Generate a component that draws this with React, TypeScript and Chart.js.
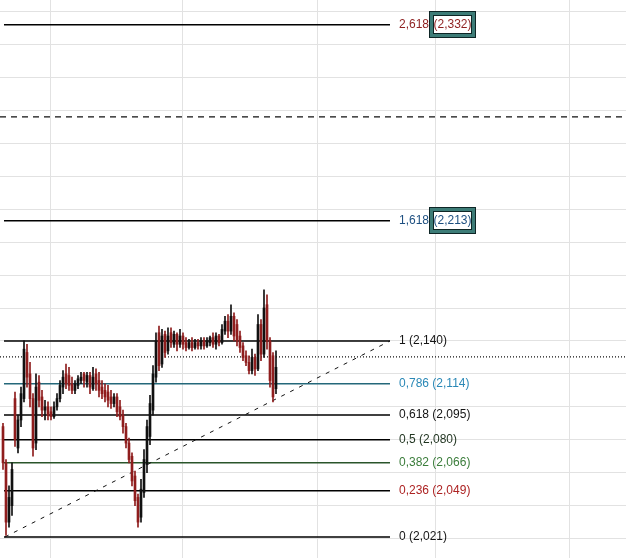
import React, { useEffect, useRef } from 'react';
import { Chart, registerables } from 'chart.js';
Chart.register(...registerables);

// ---- Candle data (index-based time axis) ----
const candleOpen = [
  2.088, 2.066, 2.030, 2.040, 2.105, 2.075, 2.092, 2.105, 2.133, 2.120,
  2.105, 2.078, 2.115, 2.106, 2.098, 2.100, 2.097, 2.094, 2.100, 2.105,
  2.112, 2.120, 2.119, 2.114, 2.110, 2.113, 2.116, 2.120, 2.115, 2.119,
  2.111, 2.120, 2.116, 2.112, 2.110, 2.109, 2.106, 2.102, 2.106, 2.100,
  2.095, 2.088, 2.078, 2.070, 2.058, 2.045, 2.033, 2.048, 2.065, 2.082,
  2.098, 2.118, 2.145, 2.126, 2.144, 2.134, 2.145, 2.138, 2.144, 2.138,
  2.143, 2.139, 2.136, 2.139, 2.136, 2.139, 2.137, 2.140, 2.137, 2.139,
  2.142, 2.138, 2.143, 2.139, 2.146, 2.152, 2.146, 2.155, 2.150, 2.143,
  2.137, 2.131, 2.127, 2.122, 2.130, 2.123, 2.150, 2.132, 2.162, 2.140,
  2.131, 2.111,
];
const candleHigh = [
  2.090, 2.068, 2.052, 2.066, 2.109, 2.095, 2.112, 2.140, 2.138, 2.127,
  2.108, 2.120, 2.119, 2.110, 2.104, 2.103, 2.100, 2.103, 2.108, 2.116,
  2.122, 2.126, 2.124, 2.118, 2.116, 2.119, 2.121, 2.121, 2.121, 2.121,
  2.124, 2.123, 2.121, 2.116, 2.114, 2.113, 2.110, 2.108, 2.108, 2.104,
  2.098, 2.090, 2.081, 2.072, 2.061, 2.047, 2.056, 2.074, 2.092, 2.107,
  2.125, 2.145, 2.149, 2.147, 2.146, 2.148, 2.148, 2.146, 2.145, 2.147,
  2.145, 2.142, 2.141, 2.142, 2.141, 2.141, 2.142, 2.142, 2.142, 2.143,
  2.145, 2.145, 2.144, 2.150, 2.155, 2.156, 2.162, 2.157, 2.153, 2.146,
  2.139, 2.134, 2.131, 2.135, 2.132, 2.156, 2.153, 2.171, 2.168, 2.142,
  2.133, 2.134,
];
const candleLow = [
  2.062, 2.022, 2.027, 2.034, 2.076, 2.072, 2.088, 2.103, 2.112, 2.100,
  2.070, 2.074, 2.100, 2.094, 2.092, 2.092, 2.092, 2.093, 2.098, 2.103,
  2.108, 2.111, 2.110, 2.108, 2.108, 2.111, 2.114, 2.112, 2.112, 2.108,
  2.110, 2.110, 2.106, 2.105, 2.103, 2.100, 2.099, 2.100, 2.094, 2.092,
  2.084, 2.075, 2.066, 2.052, 2.040, 2.027, 2.030, 2.045, 2.060, 2.077,
  2.095, 2.115, 2.122, 2.124, 2.130, 2.132, 2.136, 2.136, 2.134, 2.136,
  2.135, 2.134, 2.135, 2.134, 2.135, 2.135, 2.135, 2.135, 2.136, 2.137,
  2.136, 2.135, 2.137, 2.138, 2.144, 2.142, 2.144, 2.140, 2.137, 2.133,
  2.128, 2.125, 2.120, 2.120, 2.119, 2.122, 2.128, 2.130, 2.135, 2.112,
  2.103, 2.108,
];
const candleClose = [
  2.066, 2.030, 2.045, 2.062, 2.080, 2.092, 2.108, 2.135, 2.118, 2.105,
  2.075, 2.112, 2.104, 2.098, 2.100, 2.095, 2.094, 2.100, 2.105, 2.113,
  2.118, 2.114, 2.113, 2.110, 2.114, 2.117, 2.118, 2.116, 2.119, 2.112,
  2.118, 2.114, 2.110, 2.108, 2.106, 2.104, 2.102, 2.106, 2.097, 2.094,
  2.088, 2.078, 2.068, 2.055, 2.043, 2.030, 2.050, 2.068, 2.088, 2.102,
  2.120, 2.140, 2.125, 2.143, 2.133, 2.143, 2.139, 2.144, 2.138, 2.143,
  2.138, 2.136, 2.139, 2.136, 2.139, 2.137, 2.140, 2.137, 2.140, 2.142,
  2.138, 2.143, 2.139, 2.147, 2.152, 2.146, 2.155, 2.143, 2.140, 2.136,
  2.130, 2.127, 2.122, 2.130, 2.123, 2.150, 2.132, 2.160, 2.140, 2.116,
  2.106, 2.124,
];

// ---- Fibonacci extension ----
const fibLevels = ['2,618', '1,618', '1', '0,786', '0,618', '0,5', '0,382', '0,236', '0'];
const fibPrices = [2.332, 2.213, 2.140, 2.114, 2.095, 2.080, 2.066, 2.049, 2.021];
const fibPriceLabels = ['(2,332)', '(2,213)', '(2,140)', '(2,114)', '(2,095)', '(2,080)', '(2,066)', '(2,049)', '(2,021)'];
const fibBoxed = [true, true, false, false, false, false, false, false, false];
const fibStartIndex = 0.33;
const fibEndIndex = 129;

// trend line (from point 0 to point 1 of the fib tool)
const trendIndex = [0.67, 129];
const trendPrice = [2.021, 2.140];

// horizontal reference lines
const dashedLinePrice = 2.276;
const lastPriceLine = 2.1303;

// axes
const xMin = -1;
const xMax = 207.67;
const yMin = 2.00822;
const yMax = 2.347;
const xGridTicks = [15.9, 60, 104.67, 144.33, 188.67];
const yGridTicks = [2.02, 2.04, 2.06, 2.08, 2.10, 2.12, 2.14, 2.16, 2.18, 2.20, 2.22, 2.24, 2.26, 2.28, 2.30, 2.32, 2.34];

// ---- styles ----
const fibLineColors = ['#000', '#000', '#000', '#24687a', '#000', '#000', '#2a552b', '#000', '#000'];
const fibTextColors = ['#8e1f1f', '#1d4f80', '#151515', '#2a88b6', '#151515', '#1f331f', '#3b7d3b', '#ad2323', '#151515'];
const UP = '#111111';
const DOWN = '#8f1d1d';
const FONT = '12px "Liberation Sans", Arial, sans-serif';

const fibLabelPlugin = {
  id: 'fibLabels',
  afterDatasetsDraw(chart: any) {
    const { ctx, scales } = chart;
    const x = scales.x;
    const y = scales.y;
    ctx.save();
    ctx.font = FONT;
    ctx.textBaseline = 'middle';
    fibLevels.forEach((lvl, k) => {
      const py = y.getPixelForValue(fibPrices[k]);
      const px = x.getPixelForValue(fibEndIndex) + 9;
      ctx.fillStyle = fibTextColors[k];
      ctx.textAlign = 'left';
      if (fibBoxed[k]) {
        ctx.fillText(lvl, px, py);
        const lw = ctx.measureText(lvl).width;
        const rw = ctx.measureText(fibPriceLabels[k]).width;
        const bx = Math.round(px + lw);
        const bw = Math.round(rw + 9);
        const bh = 27;
        const by = Math.round(py - bh / 2);
        ctx.fillStyle = '#0e2626';
        ctx.fillRect(bx, by, bw, bh);
        ctx.fillStyle = '#3d7c77';
        ctx.fillRect(bx + 1, by + 1, bw - 2, bh - 2);
        ctx.fillStyle = '#0e2626';
        ctx.fillRect(bx + 4, by + 4, bw - 8, bh - 8);
        ctx.fillStyle = '#ffffff';
        ctx.fillRect(bx + 5, by + 5, bw - 10, bh - 10);
        ctx.fillStyle = fibTextColors[k];
        ctx.textAlign = 'center';
        ctx.fillText(fibPriceLabels[k], bx + bw / 2, py);
      } else {
        ctx.fillText(lvl + ' ' + fibPriceLabels[k], px, py);
      }
    });
    ctx.restore();
  },
};

export default function App() {
  const ref = useRef<HTMLCanvasElement>(null);
  useEffect(() => {
    document.body.style.margin = '0';
    const idx = candleOpen.map((_, i) => i);
    const colors = idx.map((i) => (candleClose[i] >= candleOpen[i] ? UP : DOWN));

    const fibDatasets = fibPrices.map((p, k) => ({
      type: 'line' as const,
      data: [
        { x: fibStartIndex, y: p },
        { x: fibEndIndex, y: p },
      ],
      borderColor: fibLineColors[k],
      borderWidth: 1.5,
      pointRadius: 0,
      order: 5,
    }));

    const chart = new Chart(ref.current as HTMLCanvasElement, {
      type: 'bar',
      data: {
        datasets: [
          {
            type: 'bar',
            data: idx.map((i) => ({ x: i, y: [candleLow[i], candleHigh[i]] })),
            backgroundColor: colors,
            barThickness: 1,
            grouped: false,
            minBarLength: 1,
            order: 1,
          } as any,
          {
            type: 'bar',
            data: idx.map((i) => ({ x: i, y: [candleOpen[i], candleClose[i]] })),
            backgroundColor: colors,
            barThickness: 2,
            grouped: false,
            minBarLength: 1,
            order: 0,
          } as any,
          ...fibDatasets,
          {
            type: 'line',
            data: [
              { x: trendIndex[0], y: trendPrice[0] },
              { x: trendIndex[1], y: trendPrice[1] },
            ],
            borderColor: '#111',
            borderWidth: 1,
            borderDash: [4, 6],
            pointRadius: 0,
            order: 4,
          },
          {
            type: 'line',
            data: [
              { x: xMin, y: dashedLinePrice },
              { x: xMax, y: dashedLinePrice },
            ],
            borderColor: '#111',
            borderWidth: 1.3,
            borderDash: [6, 5],
            pointRadius: 0,
            order: 4,
          },
          {
            type: 'line',
            data: [
              { x: xMin, y: lastPriceLine },
              { x: xMax, y: lastPriceLine },
            ],
            borderColor: '#111',
            borderWidth: 1.2,
            borderDash: [1, 2],
            pointRadius: 0,
            order: 4,
          },
        ] as any,
      },
      options: {
        animation: false,
        responsive: false,
        layout: { padding: 0 },
        plugins: { legend: { display: false }, tooltip: { enabled: false } },
        scales: {
          x: {
            type: 'linear',
            min: xMin,
            max: xMax,
            offset: false,
            afterBuildTicks: (s: any) => {
              s.ticks = xGridTicks.map((v) => ({ value: v }));
            },
            ticks: { display: false, padding: 0 },
            grid: { color: '#e2e2e2', drawTicks: false, lineWidth: 1, offset: false },
            border: { display: false },
          },
          y: {
            type: 'linear',
            min: yMin,
            max: yMax,
            afterBuildTicks: (s: any) => {
              s.ticks = yGridTicks.map((v) => ({ value: v }));
            },
            ticks: { display: false, padding: 0 },
            grid: { color: '#e2e2e2', drawTicks: false, lineWidth: 1 },
            border: { display: false },
          },
        },
      } as any,
      plugins: [fibLabelPlugin],
    });
    return () => chart.destroy();
  }, []);
  return (
    <div style={{ width: 626, height: 558 }}>
      <canvas ref={ref} width={626} height={558} style={{ display: 'block' }} />
    </div>
  );
}
